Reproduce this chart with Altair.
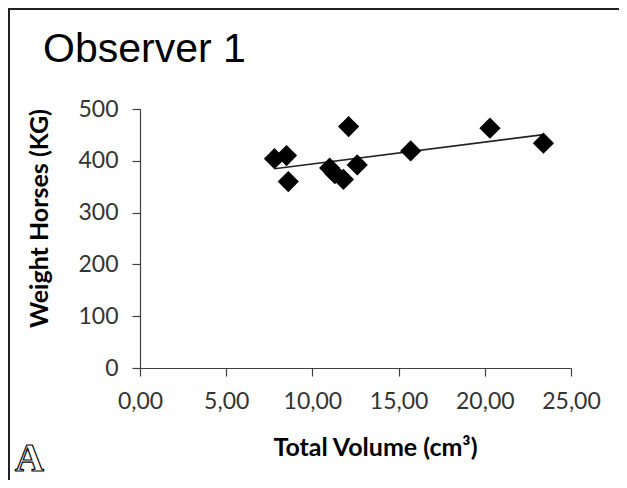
import altair as alt
import pandas as pd

# Data
volume = [7.8, 8.5, 8.6, 11.0, 11.3, 11.8, 12.1, 12.6, 15.7, 20.3, 23.4]
weight = [404, 410, 360, 386, 375, 364, 466, 392, 419, 463, 434]

x_ticks = [0, 5, 10, 15, 20, 25]
y_ticks = [0, 100, 200, 300, 400, 500]

title_text = "Observer 1"
x_title = "Total Volume (cm³)"
y_title = "Weight Horses (KG)"
panel_letter = "A"

df = pd.DataFrame({"volume": volume, "weight": weight})
one = pd.DataFrame({"k": [0]})

W, H = 431, 259
PAD = {"left": 132, "top": 101, "right": 48, "bottom": 112}

x_enc = alt.X(
    "volume:Q",
    scale=alt.Scale(domain=[0, 25], nice=False, zero=True),
    axis=alt.Axis(
        values=x_ticks,
        labelExpr="replace(format(datum.value, '.2f'), '.', ',')",
        labelFlush=False,
        labelOverlap=False,
        title=x_title,
        titleX=235,
        titleY=87,
        titleAlign="center",
        titleBaseline="alphabetic",
        labelPadding=14,
        grid=False,
    ),
)
y_enc = alt.Y(
    "weight:Q",
    scale=alt.Scale(domain=[0, 500], nice=False),
    axis=alt.Axis(
        values=y_ticks,
        format="d",
        labelFlush=False,
        labelOverlap=False,
        title=y_title,
        titleX=-93,
        titleY=109,
        titleAlign="center",
        titleBaseline="alphabetic",
        titleAngle=-90,
        labelPadding=14,
        grid=False,
    ),
)

points = alt.Chart(df).mark_point(
    shape="diamond", filled=True, color="black", size=450, opacity=1
).encode(x=x_enc, y=y_enc)

trend = (
    alt.Chart(df)
    .transform_regression("volume", "weight")
    .mark_line(color="#222222", strokeWidth=1.6)
    .encode(x="volume:Q", y="weight:Q")
)

title_mark = alt.Chart(one).mark_text(
    text=title_text, font="Liberation Sans", fontSize=41, align="left",
    baseline="alphabetic", color="black"
).encode(x=alt.value(-97), y=alt.value(-47))

letter = alt.Chart(one).mark_text(
    text=panel_letter, font="Liberation Serif", fontSize=40, fontWeight="bold",
    align="left", baseline="alphabetic", fill="white", stroke="black",
    strokeWidth=1.2
).encode(x=alt.value(-125), y=alt.value(362))

frame_left = alt.Chart(one).mark_rule(color="#222222", strokeWidth=2).encode(
    x=alt.value(-131), y=alt.value(-101), y2=alt.value(380)
)
frame_top = alt.Chart(one).mark_rule(color="#222222", strokeWidth=2).encode(
    x=alt.value(-132), x2=alt.value(480), y=alt.value(-100)
)

chart = (
    alt.layer(frame_left, frame_top, title_mark, letter, trend, points)
    .properties(width=W, height=H, padding=PAD, background="white",
                autosize=alt.AutoSizeParams(type="none"))
    .configure_view(stroke=None)
    .configure_axis(
        grid=False,
        domainColor="#404040",
        domainWidth=1.2,
        tickColor="#404040",
        tickWidth=1.2,
        tickSize=8,
        labelFont="Lato",
        labelFontSize=23,
        labelColor="#333333",
        titleFont="Lato",
        titleFontSize=25,
        titleFontWeight="bold",
        titleColor="black",
    )
)

chart.save("out.html", embed_options={"renderer": "svg", "actions": False})
